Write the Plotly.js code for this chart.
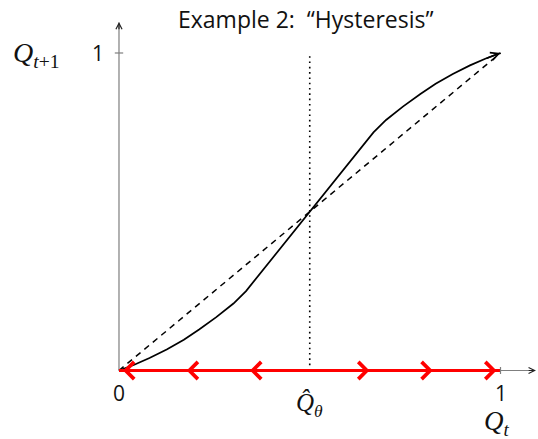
<!DOCTYPE html>
<html>
<head>
<meta charset="utf-8">
<script src="https://cdn.plot.ly/plotly-3.0.1.min.js"></script>
<style>
  html, body { margin: 0; padding: 0; background: #fff; }
  #chart { width: 538px; height: 439px; }
</style>
</head>
<body>
<div id="chart"></div>
<script>
// Transition map Q_{t+1} = f(Q_t): convex start, steep middle, concave finish
const mapQt   = [0, 0.04, 0.08, 0.125, 0.17, 0.21, 0.255, 0.30, 0.333, 0.5, 0.667, 0.70, 0.745, 0.79, 0.83, 0.875, 0.92, 0.96, 1.0];
const mapQt1  = [0, 0.018, 0.039, 0.066, 0.097, 0.129, 0.168, 0.211, 0.25, 0.5, 0.75, 0.789, 0.832, 0.871, 0.903, 0.934, 0.961, 0.982, 1.0];

// 45-degree line
const diagX = [0, 1];
const diagY = [0, 1];

// interior fixed point
const fixedQ = 0.5;

// direction of motion along the Q_t axis
const flowLeft  = [0.5, 0.333, 0.167, 0];
const flowRight = [0.5, 0.667, 0.833, 1];

// axis labels
const xTickVals = [0, 0.5, 1];
const xTickText = ['0', 'Q\u0302<sub><i>\u03b8</i></sub>', '1'];
const yTickVals = [1];
const yTickText = ['1'];

const SANS = '"Open Sans", Lato, sans-serif';
const SERIF = '"Liberation Serif", "DejaVu Serif", serif';
const AX = '#7f7f7f';
const RED = '#ff0000';

const traces = [
  {
    x: diagX, y: diagY, mode: 'lines', hoverinfo: 'skip',
    line: { color: '#000', width: 1.5, dash: '6px,5px' }
  },
  {
    x: [fixedQ, fixedQ], y: [0, 1], mode: 'lines', hoverinfo: 'skip',
    line: { color: '#000', width: 1.6, dash: '1.6px,3.7px' }
  },
  {
    x: mapQt, y: mapQt1, mode: 'lines', hoverinfo: 'skip',
    line: { color: '#000', width: 1.7, shape: 'linear' }
  },
  {
    x: [flowLeft[flowLeft.length - 1], flowRight[flowRight.length - 1]], y: [0, 0],
    mode: 'lines', hoverinfo: 'skip', line: { color: RED, width: 3 }
  }
];

const shapes = [
  { type: 'line', xref: 'x', yref: 'y', x0: 0, y0: 0, x1: 1.09, y1: 0, layer: 'below', line: { color: AX, width: 1.2 } },
  { type: 'line', xref: 'x', yref: 'y', x0: 0, y0: 0, x1: 0, y1: 1.096, layer: 'below', line: { color: AX, width: 1.2 } },
  // tick marks
  { type: 'line', xref: 'x', yref: 'y', x0: 1, y0: -0.011, x1: 1, y1: 0.011, line: { color: AX, width: 1.2 } },
  { type: 'line', xref: 'x', yref: 'y', x0: -0.011, y0: 1, x1: 0.011, y1: 1, line: { color: AX, width: 1.2 } }
];

const annotations = [];

function arrow(x0, y0, x1, y1, opts) {
  annotations.push(Object.assign({
    x: x1, y: y1, ax: x0, ay: y0, xref: 'x', yref: 'y', axref: 'x', ayref: 'y',
    text: '', showarrow: true, standoff: 0, startstandoff: 0
  }, opts));
}

// axis arrowheads
arrow(1.07, 0, 1.093, 0, { arrowhead: 5, arrowsize: 1, arrowwidth: 1.2, arrowcolor: '#222' });
arrow(0, 1.07, 0, 1.098, { arrowhead: 5, arrowsize: 1, arrowwidth: 1.2, arrowcolor: '#222' });

// arrowhead at the end of the map
arrow(mapQt[mapQt.length - 2], mapQt1[mapQt1.length - 2], mapQt[mapQt.length - 1], mapQt1[mapQt1.length - 1],
      { arrowhead: 5, arrowsize: 1, arrowwidth: 1.6, arrowcolor: '#000' });

// red flow chevrons
[flowLeft, flowRight].forEach(pts => {
  for (let i = 1; i < pts.length; i++) {
    arrow(pts[i - 1], 0, pts[i], 0, { arrowhead: 4, arrowsize: 1.5, arrowwidth: 2.2, arrowcolor: RED, standoff: 4 });
  }
});

// tick labels
xTickVals.forEach((v, i) => {
  const isMath = xTickText[i].indexOf('Q') >= 0;
  annotations.push({
    x: v, y: isMath ? -0.11 : -0.07, xref: 'x', yref: 'y', showarrow: false,
    text: isMath ? '<i>' + xTickText[i] + '</i>' : xTickText[i],
    font: { family: isMath ? SERIF : SANS, size: isMath ? 25 : 21, color: '#111' }
  });
});
yTickVals.forEach((v, i) => {
  annotations.push({
    x: -0.055, y: v, xref: 'x', yref: 'y', showarrow: false, text: yTickText[i],
    font: { family: SANS, size: 21, color: '#111' }
  });
});

// axis titles
annotations.push({
  x: -0.215, y: 0.995, xref: 'x', yref: 'y', showarrow: false,
  text: '<i>Q</i><sub><i>t</i>+1</sub>', font: { family: SERIF, size: 28, color: '#111' }
});
annotations.push({
  x: 0.99, y: -0.165, xref: 'x', yref: 'y', showarrow: false,
  text: '<i>Q</i><sub><i>t</i></sub>', font: { family: SERIF, size: 27, color: '#111' }
});

// title
annotations.push({
  x: 0.49, y: 1.108, xref: 'x', yref: 'y', showarrow: false,
  text: 'Example 2:\u00a0 \u201cHysteresis\u201d', font: { family: SANS, size: 23, color: '#111' }
});

const layout = {
  width: 538, height: 439,
  margin: { l: 0, r: 0, t: 0, b: 0 },
  paper_bgcolor: '#fff', plot_bgcolor: '#fff',
  showlegend: false,
  xaxis: { range: [-0.3119, 1.0983], visible: false, fixedrange: true },
  yaxis: { range: [-0.2158, 1.1669], visible: false, fixedrange: true },
  shapes: shapes,
  annotations: annotations
};

Plotly.newPlot('chart', traces, layout, { displayModeBar: false, staticPlot: true });
</script>
</body>
</html>
